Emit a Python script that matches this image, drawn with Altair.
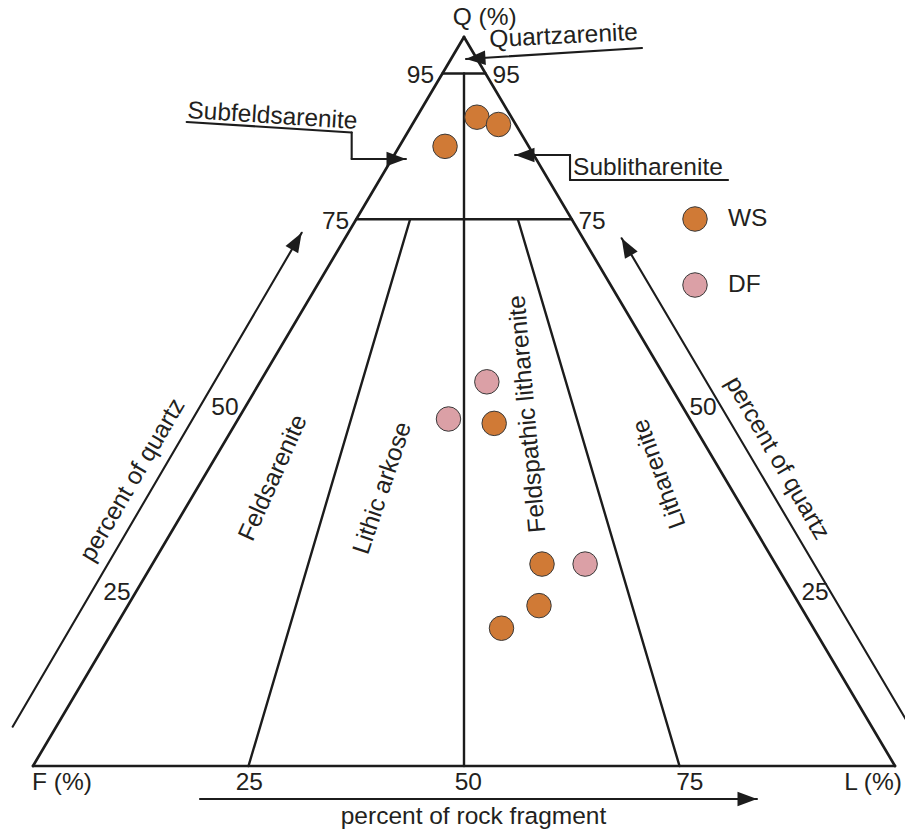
import altair as alt
import pandas as pd

# ---- sample compositions (% quartz Q, % feldspar F, % rock fragments L) ----
ws_q = [89.0, 88.0, 85.0, 47.0, 27.7, 22.0, 18.9]
ws_f = [4.0, 2.0, 9.7, 23.0, 27.1, 30.3, 36.2]
ws_l = [7.0, 10.0, 5.3, 30.0, 45.2, 47.7, 44.9]

df_q = [52.7, 47.6, 27.7]
df_f = [21.0, 28.0, 22.1]
df_l = [26.3, 24.4, 50.2]

groups = ["WS", "DF"]
group_colors = ["#D07A36", "#DBA0A6"]

# Folk (1974) field boundaries: quartz levels and F/(F+L) ratios
quartz_levels = [95, 75]
ratio_lines = [(0.5, 95), (0.75, 75), (0.25, 75)]   # (F share, top quartz level)

INK = "#1c1c1c"
TXT = "#231f20"
FONT = "Liberation Sans"


def to_xy(q, f_share):
    """Quartz % and F/(F+L) share -> plane coordinates (base 0..100, height = Q)."""
    l = (100 - q) * (1 - f_share)
    return l + q / 2, q


# ---- triangle outline and internal boundaries ----
segs = []
def seg(a, b, w):
    segs.append({"x": a[0], "y": a[1], "x2": b[0], "y2": b[1], "w": w})

seg(to_xy(0, 1), to_xy(0, 0), 2.7)
seg(to_xy(0, 1), to_xy(100, 0.5), 2.7)
seg(to_xy(0, 0), to_xy(100, 0.5), 2.7)
for q in quartz_levels:
    seg(to_xy(q, 1), to_xy(q, 0), 2.4)
for r, top in ratio_lines:
    seg(to_xy(top, r), to_xy(0, r), 2.4)

# ---- guide arrows and callout leaders (diagram units) ----
arrow_paths = [
    [(-2.36, 5.39), (31.17, 73.15)],                     # left: percent of quartz
    [(102.0, 4.9), (68.29, 72.39)],                      # right: percent of quartz
    [(19.37, -4.53), (83.99, -4.53)],                    # bottom: percent of rock fragment
    [(70.65, 98.49), (50.23, 96.98)],                    # Quartzarenite
    [(17.83, 88.35), (36.97, 86.9), (36.97, 83.26), (43.27, 83.26)],   # Subfeldsarenite
    [(80.63, 80.38), (62.30, 80.38), (62.30, 83.81), (55.92, 83.81)],  # Sublitharenite
]
arrow_angles = [30.3, 330.3, 90, 266.4, 90, 270]

heads = []
for path, ang in zip(arrow_paths, arrow_angles):
    for a, b in zip(path[:-1], path[1:]):
        seg(a, b, 2.1)
    heads.append({"x": path[-1][0], "y": path[-1][1], "ang": ang})

lines_df = pd.DataFrame(segs)
heads_df = pd.DataFrame(heads)

# ---- labels ----
center_labels = pd.DataFrame([
    {"t": "Q (%)", "x": 52.4, "y": 102.6, "ang": 0},
    {"t": "95", "x": 44.95, "y": 94.65, "ang": 0},
    {"t": "95", "x": 54.9, "y": 94.65, "ang": 0},
    {"t": "75", "x": 35.1, "y": 74.6, "ang": 0},
    {"t": "75", "x": 64.85, "y": 74.6, "ang": 0},
    {"t": "50", "x": 22.27, "y": 49.1, "ang": 0},
    {"t": "25", "x": 9.74, "y": 23.73, "ang": 0},
    {"t": "50", "x": 77.73, "y": 49.1, "ang": 0},
    {"t": "25", "x": 90.72, "y": 23.73, "ang": 0},
    {"t": "F (%)", "x": 3.36, "y": -2.33, "ang": 0},
    {"t": "25", "x": 25.1, "y": -2.33, "ang": 0},
    {"t": "50", "x": 50.5, "y": -2.33, "ang": 0},
    {"t": "75", "x": 76.2, "y": -2.33, "ang": 0},
    {"t": "L (%)", "x": 97.45, "y": -2.33, "ang": 0},
    {"t": "percent of rock fragment", "x": 51.1, "y": -7.0, "ang": 0},
    {"t": "percent of quartz", "x": 11.6, "y": 39.2, "ang": 300.3},
    {"t": "percent of quartz", "x": 86.3, "y": 42.2, "ang": 60},
    {"t": "Feldsarenite", "x": 27.9, "y": 39.5, "ang": 294},
    {"t": "Lithic arkose", "x": 40.6, "y": 38.1, "ang": 288.5},
    {"t": "Feldspathic litharenite", "x": 57.4, "y": 48.3, "ang": 265},
    {"t": "Litharenite", "x": 72.7, "y": 40.1, "ang": 250},
])

callout_labels = pd.DataFrame([
    {"t": "Quartzarenite", "x": 53.0, "y": 98.6, "ang": 357.1},
    {"t": "Subfeldsarenite", "x": 17.87, "y": 88.89, "ang": 3.7},
    {"t": "Sublitharenite", "x": 62.65, "y": 81.07, "ang": 0},
])

samples = pd.concat([
    pd.DataFrame({"group": "WS", "Q": ws_q, "F": ws_f, "L": ws_l}),
    pd.DataFrame({"group": "DF", "Q": df_q, "F": df_f, "L": df_l}),
], ignore_index=True)

xs = alt.Scale(domain=[0, 100], range=[33, 895], nice=False, zero=False)
ys = alt.Scale(domain=[0, 100], range=[766, 37], nice=False, zero=False)

rules = alt.Chart(lines_df).mark_rule(color=INK, strokeCap="round").encode(
    x=alt.X("x:Q", scale=xs, axis=None),
    y=alt.Y("y:Q", scale=ys, axis=None),
    x2="x2:Q",
    y2="y2:Q",
    strokeWidth=alt.StrokeWidth("w:Q", scale=None),
)

arrowheads = alt.Chart(heads_df).mark_point(
    shape="M0,0L0.75,2L-0.75,2Z", filled=True, color=INK, size=380, opacity=1
).encode(
    x=alt.X("x:Q", scale=xs, axis=None),
    y=alt.Y("y:Q", scale=ys, axis=None),
    angle=alt.Angle("ang:Q", scale=None),
)

center_text = alt.Chart(center_labels).mark_text(
    font=FONT, fontSize=24.5, color=TXT, align="center", baseline="middle"
).encode(
    x=alt.X("x:Q", scale=xs, axis=None),
    y=alt.Y("y:Q", scale=ys, axis=None),
    text="t:N",
    angle=alt.Angle("ang:Q", scale=None),
)

callout_text = alt.Chart(callout_labels).mark_text(
    font=FONT, fontSize=24.5, color=TXT, align="left", baseline="alphabetic"
).encode(
    x=alt.X("x:Q", scale=xs, axis=None),
    y=alt.Y("y:Q", scale=ys, axis=None),
    text="t:N",
    angle=alt.Angle("ang:Q", scale=None),
)

points = alt.Chart(samples).transform_calculate(
    px="50 + (datum.L - datum.F) / 2"
).mark_point(
    shape="circle", filled=True, size=600, stroke="#3a3a3a", strokeWidth=1, opacity=1
).encode(
    x=alt.X("px:Q", scale=xs, axis=None),
    y=alt.Y("Q:Q", scale=ys, axis=None),
    fill=alt.Fill(
        "group:N",
        scale=alt.Scale(domain=groups, range=group_colors),
        legend=alt.Legend(
            title=None, orient="none", direction="vertical",
            legendX=682, legendY=206, padding=0,
            symbolType="circle", symbolSize=600,
            symbolStrokeColor="#3a3a3a", symbolStrokeWidth=1, symbolOpacity=1,
            labelFont=FONT, labelFontSize=24.5, labelColor=TXT,
            labelOffset=20, rowPadding=36,
        ),
    ),
)

chart = alt.layer(rules, arrowheads, center_text, callout_text, points).properties(
    width=905, height=832, autosize="none", padding=0, background="white"
).configure_view(strokeWidth=0)

chart.save("out.html", embed_options={"renderer": "svg", "actions": False})
